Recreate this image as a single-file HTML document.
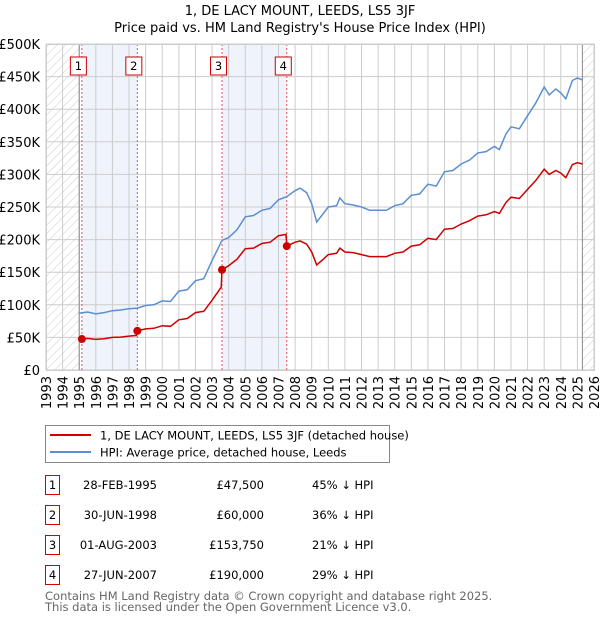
<!DOCTYPE html>
<html><head><meta charset="utf-8"><style>
body{margin:0;background:#fff;font-family:"DejaVu Sans","Liberation Sans",sans-serif;}
svg text{font-family:"DejaVu Sans","Liberation Sans",sans-serif;}
</style></head><body>
<svg id="chart" width="600" height="620" xmlns="http://www.w3.org/2000/svg">
<defs><pattern id="hatch" width="6" height="6" patternUnits="userSpaceOnUse" patternTransform="rotate(45)"><line x1="0" y1="0" x2="0" y2="6" stroke="#ccc" stroke-width="1"/></pattern></defs>
<text x="300" y="15" text-anchor="middle" font-size="13">1, DE LACY MOUNT, LEEDS, LS5 3JF</text>
<text x="300" y="32" text-anchor="middle" font-size="13">Price paid vs. HM Land Registry's House Price Index (HPI)</text>
<g id="plot"></g>
<g id="legend">
<rect x="45.5" y="425.5" width="344" height="37" fill="#fff" stroke="#888"/>
<line x1="50" y1="435" x2="91" y2="435" stroke="#cc0000" stroke-width="2"/>
<text x="100" y="439.5" font-size="11.5">1, DE LACY MOUNT, LEEDS, LS5 3JF (detached house)</text>
<line x1="50" y1="452" x2="91" y2="452" stroke="#5b8fd0" stroke-width="2"/>
<text x="100" y="456.5" font-size="11.5">HPI: Average price, detached house, Leeds</text>
</g>
<g id="table" font-size="11.5"></g>
<text x="45" y="600" font-size="11.5" fill="#666">Contains HM Land Registry data © Crown copyright and database right 2025.</text>
<text x="45" y="611" font-size="11.5" fill="#666">This data is licensed under the Open Government Licence v3.0.</text>
</svg>
<script>
const hpiDates=[1995.0,1995.5,1996,1996.5,1997,1997.5,1998,1998.5,1999,1999.5,2000,2000.5,2001,2001.5,2002,2002.5,2003,2003.6,2004,2004.5,2005,2005.5,2006,2006.5,2007,2007.5,2008,2008.3,2008.7,2009,2009.3,2009.7,2010,2010.5,2010.7,2011,2011.5,2012,2012.5,2013,2013.5,2014,2014.5,2015,2015.5,2016,2016.5,2017,2017.5,2018,2018.5,2019,2019.5,2020,2020.3,2020.7,2021,2021.5,2022,2022.5,2023,2023.3,2023.7,2024,2024.3,2024.7,2025,2025.3];
const hpiValues=[87,89,86,88,91,92,94,95,99,100,106,105,121,123,137,140,168,199,203,215,235,237,245,248,261,266,275,279,272,255,227,240,250,252,264,255,253,250,245,245,245,252,255,268,270,285,282,304,306,316,322,333,335,343,338,362,373,370,390,410,434,422,431,425,416,444,448,445];
const redDates=[1995.16,1995.5,1996,1996.5,1997,1997.5,1998,1998.45,1998.5,1999,1999.5,2000,2000.5,2001,2001.5,2002,2002.5,2003,2003.55,2003.6,2004,2004.5,2005,2005.5,2006,2006.5,2007,2007.45,2007.5,2008,2008.3,2008.7,2009,2009.3,2009.7,2010,2010.5,2010.7,2011,2011.5,2012,2012.5,2013,2013.5,2014,2014.5,2015,2015.5,2016,2016.5,2017,2017.5,2018,2018.5,2019,2019.5,2020,2020.3,2020.7,2021,2021.5,2022,2022.5,2023,2023.3,2023.7,2024,2024.3,2024.7,2025,2025.3];
const redValues=[47.5,48.5,47,48,50,50.5,52,53,60,63,64,68,67,77,79,88,90,107,127,153.75,160,170,186,187,194,196,206,208,190,196,198,193,181,161,170,177,179,187,181,180,177,174,174,174,179,181,190,192,202,200,216,217,224,229,236,238,243,240,257,265,263,277,291,308,300,306,302,295,315,318,316];
const saleLabels=["1","2","3","4"];
const saleDates=[1995.16,1998.5,2003.6,2007.5];
const salePrices=[47.5,60,153.75,190];
const saleDateText=["28-FEB-1995","30-JUN-1998","01-AUG-2003","27-JUN-2007"];
const salePriceText=["£47,500","£60,000","£153,750","£190,000"];
const saleHpiText=["45% ↓ HPI","36% ↓ HPI","21% ↓ HPI","29% ↓ HPI"];
const yTicks=[0,50,100,150,200,250,300,350,400,450,500];
const yTickLabels=["£0","£50K","£100K","£150K","£200K","£250K","£300K","£350K","£400K","£450K","£500K"];
const xYears=[1993,1994,1995,1996,1997,1998,1999,2000,2001,2002,2003,2004,2005,2006,2007,2008,2009,2010,2011,2012,2013,2014,2015,2016,2017,2018,2019,2020,2021,2022,2023,2024,2025,2026];

const NS="http://www.w3.org/2000/svg";
const X0=46,X1=594,Y0=370,Y1=44;
const xs=y=>X0+(y-1993)*(X1-X0)/33;
const ys=v=>Y0-(v/500)*(Y0-Y1);
const plot=document.getElementById('plot');
function mk(tag,attrs,parent){const e=document.createElementNS(NS,tag);for(const k in attrs)e.setAttribute(k,attrs[k]);(parent||plot).appendChild(e);return e;}

let e=mk('rect',{x:X0,y:Y1,width:X1-X0,height:Y0-Y1,fill:'#fff'});


for(let i=0;i<saleDates.length;i+=2){
  e=mk('rect',{x:xs(saleDates[i]),y:Y1,width:xs(saleDates[i+1])-xs(saleDates[i]),height:Y0-Y1,fill:'#eef3fc'});
  
  
}
e=mk('rect',{x:X0,y:Y1,width:xs(1995)-X0,height:Y0-Y1,fill:'url(#hatch)'});


e=mk('rect',{x:xs(2025.3),y:Y1,width:X1-xs(2025.3),height:Y0-Y1,fill:'url(#hatch)'});


yTicks.forEach((t,i)=>{
  e=mk('line',{x1:X0,x2:X1,y1:ys(t),y2:ys(t),stroke:'#ccc','stroke-width':1});
  
  
  e=mk('text',{x:40,y:ys(t)+5,'text-anchor':'end','font-size':13});
  e.textContent=yTickLabels[i];
  
  
});
xYears.forEach(yr=>{
  e=mk('line',{x1:xs(yr),x2:xs(yr),y1:Y1,y2:Y0,stroke:'#ccc','stroke-width':1});
  
  
  e=mk('text',{x:0,y:0,'text-anchor':'end','font-size':13,transform:`translate(${xs(yr)+5},${Y0+6}) rotate(-90)`});
  e.textContent=yr;
  
  
});
e=mk('line',{x1:xs(1995),x2:xs(1995),y1:Y1,y2:Y0,stroke:'#888'});


e=mk('line',{x1:xs(2025.3),x2:xs(2025.3),y1:Y1,y2:Y0,stroke:'#888'});


saleDates.forEach((d,i)=>{
  e=mk('line',{x1:xs(d),x2:xs(d),y1:Y1,y2:Y0,stroke:'#e05555','stroke-dasharray':'2,2','stroke-width':1});
  
  
});
e=mk('path',{d:hpiDates.map((d,i)=>(i?'L':'M')+xs(d).toFixed(1)+','+ys(hpiValues[i]).toFixed(1)).join(''),fill:'none',stroke:'#5b8fd0','stroke-width':1.5});


e=mk('path',{d:redDates.map((d,i)=>(i?'L':'M')+xs(d).toFixed(1)+','+ys(redValues[i]).toFixed(1)).join(''),fill:'none',stroke:'#cc0000','stroke-width':1.5});


saleDates.forEach((d,i)=>{
  e=mk('circle',{cx:xs(d),cy:ys(salePrices[i]),r:4,fill:'#cc0000'});
  
  
  e=mk('rect',{x:xs(d)-11.5,y:57,width:16,height:18,fill:'#fff',stroke:'#cc0000'});
  
  
  e=mk('text',{x:xs(d)-3.5,y:70,'text-anchor':'middle','font-size':11.5});
  e.textContent=saleLabels[i];
  
  
});
e=mk('rect',{x:X0+0.5,y:Y1+0.5,width:X1-X0,height:Y0-Y1,fill:'none',stroke:'#ccc'});



const table=document.getElementById('table');
saleLabels.forEach((l,i)=>{
  const y=475+i*30;
  e=mk('rect',{x:45.5,y:y+0.5,width:14,height:19,fill:'#fff',stroke:'#cc0000'},table);
  
  
  e=mk('text',{x:52.5,y:y+14,'text-anchor':'middle'},table);
  e.textContent=l;
  
  
  e=mk('text',{x:157,y:y+14,'text-anchor':'end'},table);
  e.textContent=saleDateText[i];
  
  
  e=mk('text',{x:264,y:y+14,'text-anchor':'end'},table);
  e.textContent=salePriceText[i];
  
  
  e=mk('text',{x:312,y:y+14},table);
  e.textContent=saleHpiText[i];
  
  
});
</script>
</body></html>
